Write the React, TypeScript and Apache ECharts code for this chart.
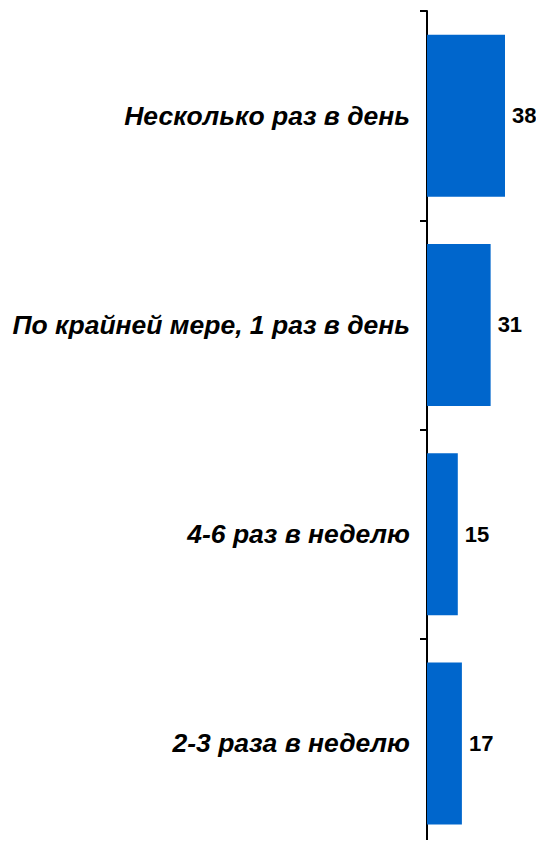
import React, { useEffect, useRef } from "react";
import * as echarts from "echarts";

const categories = [
  "Несколько раз в день",
  "По крайней мере, 1 раз в день",
  "4-6 раз в неделю",
  "2-3 раза в неделю",
];
const values = [38, 31, 15, 17];

export default function App() {
  const ref = useRef<HTMLDivElement>(null);
  useEffect(() => {
    if (!ref.current) return;
    const chart = echarts.init(ref.current, null, { renderer: "svg" });
    chart.setOption({
      animation: false,
      grid: { left: 427, right: 0, top: 11, bottom: -2, containLabel: false },
      xAxis: {
        type: "value",
        min: 0,
        max: 57,
        show: false,
      },
      yAxis: {
        type: "category",
        data: categories,
        inverse: true,
        axisLine: { show: true, lineStyle: { color: "#000", width: 2 } },
        axisTick: { show: true, length: 7, lineStyle: { color: "#000", width: 2 } },
        axisLabel: {
          margin: 17,
          color: "#000",
          fontFamily: "Liberation Sans, Arial, sans-serif",
          fontSize: 26.5,
          fontWeight: "bold",
          fontStyle: "italic",
          padding: [10, 0, 0, 0],
        },
        splitLine: { show: false },
      },
      series: [
        {
          type: "bar",
          data: values,
          barWidth: 162,
          itemStyle: { color: "#0066CC" },
          label: {
            show: true,
            position: "right",
            distance: 7,
            color: "#000",
            fontFamily: "Liberation Sans, Arial, sans-serif",
            fontSize: 22,
            fontWeight: "bold",
          },
        },
      ],
    });
    return () => chart.dispose();
  }, []);
  return <div ref={ref} style={{ width: 544, height: 848, margin: -8 }} />;
}
